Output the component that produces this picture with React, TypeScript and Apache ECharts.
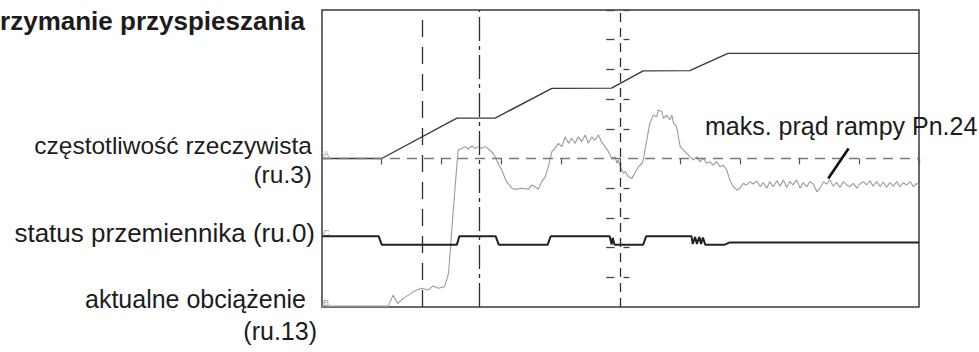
import React, { useEffect, useRef } from "react";
import * as echarts from "echarts";

// Oscilloscope screen: 10 x 10 divisions
// Trace A: częstotliwość rzeczywista (ru.3)  [time div, level div]
const FREQ_RU3: [number, number][] = [
  [0, 5.0], [1.0, 5.0], [2.26, 6.36], [2.9, 6.36], [3.85, 7.36], [4.85, 7.37],
  [5.38, 7.95], [6.16, 7.96], [6.8, 8.54], [10, 8.54],
];

// Trace C: status przemiennika (ru.0)
const STATUS_RU0: [number, number][] = [
  [0, 2.38], [0.95, 2.38], [1.0, 2.1], [2.26, 2.1], [2.3, 2.38], [2.91, 2.38],
  [2.96, 2.1], [3.78, 2.1], [3.83, 2.38], [4.82, 2.38], [4.85, 2.1], [4.87, 2.33],
  [4.9, 2.1], [4.93, 2.1], [5.38, 2.1], [5.43, 2.38], [6.19, 2.38], [6.21, 2.12],
  [6.25, 2.36], [6.28, 2.12], [6.32, 2.36], [6.35, 2.12], [6.38, 2.34], [6.42, 2.1],
  [6.75, 2.1], [6.82, 2.17], [10, 2.17],
];

// Trace B: aktualne obciążenie (ru.13)
const LOAD_RU13: [number, number][] = [
  [0, 0.03], [1.11, 0.03], [1.19, 0.4], [1.27, 0.12], [1.36, 0.29], [1.45, 0.4],
  [1.56, 0.55], [1.67, 0.63], [1.78, 0.57], [1.86, 0.71], [1.95, 0.63], [2.05, 0.68],
  [2.12, 1.13], [2.17, 2.49], [2.23, 4.05], [2.28, 5.29], [2.34, 5.34], [2.4, 5.4],
  [2.45, 5.32], [2.51, 5.42], [2.56, 5.34], [2.62, 5.4], [2.68, 5.34], [2.73, 5.4],
  [2.79, 5.32], [2.84, 5.23], [2.9, 5.06], [2.95, 4.84], [3.01, 4.61], [3.09, 4.22],
  [3.18, 4.0], [3.23, 3.96], [3.34, 4.0], [3.46, 3.97], [3.51, 4.11], [3.57, 4.05],
  [3.62, 3.96], [3.68, 4.22], [3.74, 4.39], [3.79, 4.72], [3.85, 5.23], [3.9, 5.34],
  [3.96, 5.51], [4.02, 5.4], [4.07, 5.73], [4.13, 5.51], [4.18, 5.68], [4.24, 5.51],
  [4.29, 5.73], [4.35, 5.57], [4.41, 5.79], [4.46, 5.51], [4.52, 5.73], [4.57, 5.62],
  [4.63, 5.79], [4.68, 5.57], [4.74, 5.4], [4.8, 5.23], [4.85, 5.01], [4.91, 5.06],
  [4.94, 4.84], [4.96, 4.95], [4.99, 4.78], [5.02, 4.61], [5.05, 4.5], [5.08, 4.56],
  [5.13, 4.39], [5.19, 4.33], [5.24, 4.5], [5.3, 4.72], [5.36, 4.84], [5.38, 4.95],
  [5.44, 5.62], [5.49, 6.18], [5.55, 6.46], [5.61, 6.41], [5.63, 6.63], [5.69, 6.58],
  [5.72, 6.35], [5.77, 6.46], [5.83, 6.3], [5.86, 6.46], [5.89, 6.18], [5.94, 6.07],
  [5.97, 5.73], [6.0, 5.4], [6.05, 5.29], [6.11, 5.17], [6.16, 5.06], [6.22, 4.95],
  [6.28, 5.06], [6.33, 4.89], [6.39, 5.01], [6.44, 4.84], [6.5, 4.89], [6.55, 4.78],
  [6.61, 4.89], [6.67, 4.72], [6.72, 4.78], [6.78, 4.61], [6.83, 4.28], [6.89, 4.05],
  [6.95, 3.94], [7.0, 4.0], [7.06, 4.16], [7.11, 4.11], [7.17, 4.22], [7.22, 4.14],
  [7.28, 4.24], [7.34, 4.05], [7.39, 4.19], [7.45, 4.0], [7.5, 4.22], [7.56, 4.05],
  [7.62, 4.25], [7.67, 4.07], [7.73, 4.28], [7.78, 4.03], [7.84, 4.22], [7.89, 4.11],
  [7.95, 4.28], [8.01, 4.0], [8.06, 4.19], [8.12, 4.05], [8.17, 4.22], [8.23, 4.14],
  [8.29, 3.88], [8.34, 4.0], [8.4, 4.22], [8.45, 4.14], [8.51, 4.28], [8.56, 4.07],
  [8.62, 4.19], [8.68, 4.03], [8.73, 4.22], [8.79, 4.11], [8.84, 4.05], [8.9, 4.16],
  [8.96, 4.0], [9.01, 4.14], [9.07, 4.22], [9.12, 4.11], [9.18, 4.25], [9.23, 4.07],
  [9.29, 4.22], [9.35, 4.05], [9.4, 4.21], [9.46, 4.03], [9.51, 4.19], [9.57, 4.07],
  [9.63, 4.22], [9.68, 4.05], [9.74, 4.19], [9.79, 4.1], [9.85, 4.22], [9.91, 4.05],
  [9.96, 4.16], [10.0, 4.11],
];

const REF_LEVEL_A = 5;
const DIVISIONS = [1, 2, 3, 4, 5, 6, 7, 8, 9, 10];
const CURSOR_1 = 1.68;
const CURSOR_2 = 2.64;
const CURSOR_3 = 5.0;
const CURSOR_3_TICKS = [1, 2, 3, 4, 6, 7, 8, 9, 10];
const CALLOUT_FROM: [number, number] = [8.82, 5.34];
const CALLOUT_TO: [number, number] = [8.48, 4.33];

const TITLE_TEXT = "rzymanie przyspieszania";
const LABEL_A = ["częstotliwość rzeczywista", "(ru.3)"];
const LABEL_C = ["status przemiennika (ru.0)"];
const LABEL_B = ["aktualne obciążenie", "(ru.13)"];
const CALLOUT_TEXT = "maks. prąd rampy Pn.24";

const FONT = '"Liberation Sans", Arial, Helvetica, sans-serif';
const FS = 25;
const MID = 0.348; // baseline -> central offset (em)

function txt(text: string, x: number, baseline: number, align: string, opts: any = {}) {
  const fs = opts.size || FS;
  return {
    type: "text",
    x,
    y: baseline - MID * fs,
    silent: true,
    style: {
      text,
      font: `${opts.bold ? "bold " : ""}${fs}px ${FONT}`,
      fill: "#1c1c1c",
      textAlign: align,
      textVerticalAlign: "middle",
      align,
      verticalAlign: "middle",
      lineHeight: fs,
    },
  };
}

function smallTxt(text: string, x: number, y: number) {
  return {
    type: "text",
    x,
    y,
    silent: true,
    style: {
      text,
      font: `9px ${FONT}`,
      fill: "#9a9a9a",
      textAlign: "left",
      textVerticalAlign: "bottom",
      align: "left",
      verticalAlign: "bottom",
    },
  };
}

export default function App() {
  const ref = useRef<HTMLDivElement>(null);

  useEffect(() => {
    if (!ref.current) return;
    const chart = echarts.init(ref.current, undefined, { renderer: "svg" });

    const dark = "#2e2e2e";
    const markData: any[] = [];
    markData.push({ yAxis: REF_LEVEL_A, lineStyle: { color: "#7a7a7a", width: 1.3, type: [10, 7] } });
    DIVISIONS.forEach((d) => {
      const ls = { color: "#555", width: 1.2, type: "solid" };
      markData.push([
        { coord: [d, REF_LEVEL_A], lineStyle: ls },
        { coord: [d, REF_LEVEL_A - 0.2], lineStyle: ls },
      ]);
    });
    markData.push({ xAxis: CURSOR_1, lineStyle: { color: dark, width: 1.3, type: [17, 10] } });
    markData.push({ xAxis: CURSOR_2, lineStyle: { color: dark, width: 1.3, type: [24, 5, 4, 5] } });
    markData.push({ xAxis: CURSOR_3, lineStyle: { color: dark, width: 1.3, type: [9, 6] } });
    CURSOR_3_TICKS.forEach((d) => {
      const ls = { color: "#444", width: 1.3, type: "solid" };
      markData.push([
        { coord: [CURSOR_3 - 0.24, d], lineStyle: ls },
        { coord: [CURSOR_3 - 0.1, d], lineStyle: ls },
      ]);
      markData.push([
        { coord: [CURSOR_3 + 0.05, d], lineStyle: ls },
        { coord: [CURSOR_3 + 0.15, d], lineStyle: ls },
      ]);
    });
    const cls = { color: "#111", width: 2.6, type: "solid" };
    markData.push([
      { coord: CALLOUT_FROM, lineStyle: cls },
      { coord: CALLOUT_TO, lineStyle: cls },
    ]);

    chart.setOption({
      animation: false,
      grid: {
        left: 322,
        top: 10,
        width: 597,
        height: 297,
        show: true,
        borderColor: "#3a3a3a",
        borderWidth: 1.5,
        backgroundColor: "transparent",
      },
      xAxis: {
        type: "value",
        min: 0,
        max: 10,
        interval: 1,
        axisLine: { show: false },
        axisTick: { show: false },
        axisLabel: { show: false },
        splitLine: { show: false },
      },
      yAxis: {
        type: "value",
        min: 0,
        max: 10,
        interval: 1,
        axisLine: { show: false },
        axisTick: { show: false },
        axisLabel: { show: false },
        splitLine: { show: false },
      },
      series: [
        {
          name: "aktualne obciążenie (ru.13)",
          type: "line",
          data: LOAD_RU13,
          showSymbol: false,
          symbol: "none",
          lineStyle: { color: "#9b9b9b", width: 1.1 },
          z: 2,
        },
        {
          name: "częstotliwość rzeczywista (ru.3)",
          type: "line",
          data: FREQ_RU3,
          showSymbol: false,
          symbol: "none",
          lineStyle: { color: "#3a3a3a", width: 1.4 },
          z: 3,
          markLine: {
            silent: true,
            symbol: ["none", "none"],
            label: { show: false },
            data: markData,
          },
        },
        {
          name: "status przemiennika (ru.0)",
          type: "line",
          data: STATUS_RU0,
          showSymbol: false,
          symbol: "none",
          lineStyle: { color: "#222", width: 2 },
          z: 4,
        },
      ],
      graphic: [
        txt(TITLE_TEXT, 305, 30, "right", { bold: true, size: 26 }),
        txt(LABEL_A[0], 312, 154.5, "right", { size: 24.5 }),
        txt(LABEL_A[1], 312, 183.5, "right", { size: 24.5 }),
        txt(LABEL_C[0], 315, 242, "right", { size: 26 }),
        txt(LABEL_B[0], 306, 308, "right"),
        txt(LABEL_B[1], 317, 340, "right"),
        txt(CALLOUT_TEXT, 705, 135, "left"),
        smallTxt("A", 323, 158),
        smallTxt("C", 323, 237),
        smallTxt("B", 323, 307),
      ],
    });

    return () => chart.dispose();
  }, []);

  return (
    <div
      ref={ref}
      style={{ position: "absolute", left: 0, top: 0, width: 979, height: 352, background: "#fff" }}
    />
  );
}
